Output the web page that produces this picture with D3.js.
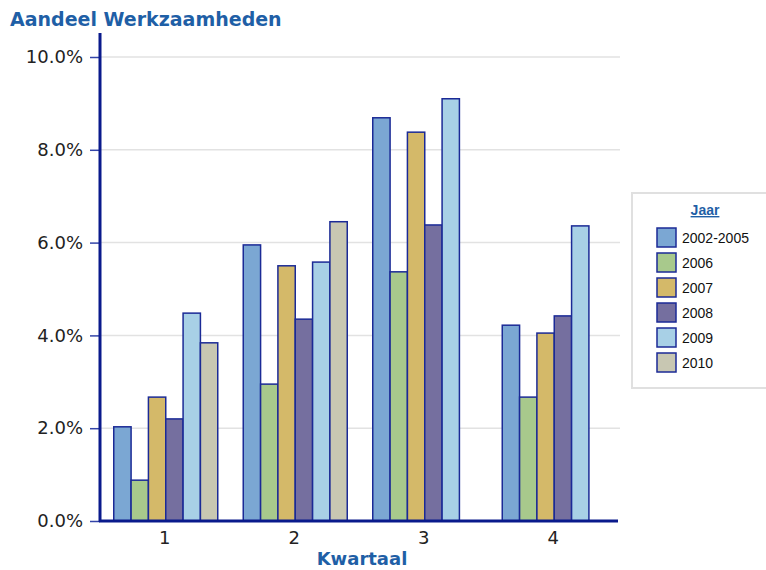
<!DOCTYPE html>
<html>
<head>
<meta charset="utf-8">
<script src="https://cdn.jsdelivr.net/npm/d3@7"></script>
<style>
  body { margin: 0; background: #fff; }
  svg { display: block; }
</style>
</head>
<body>
<div id="chart"></div>
<script>
var svgWidth = 766;
var svgHeight = 570;

var kwartalen = ["1", "2", "3", "4"];
var jaren = ["2002-2005", "2006", "2007", "2008", "2009", "2010"];
var kleuren = ["#7ba7d3", "#a8c98c", "#d4b969", "#756f9f", "#a8d0e6", "#c8c7b2"];

// aandeel per kwartaal, per jaar (null = geen balk)
var v2002 = [2.03, 5.95, 8.69, 4.22];
var v2006 = [0.88, 2.95, 5.37, 2.67];
var v2007 = [2.67, 5.50, 8.38, 4.05];
var v2008 = [2.20, 4.35, 6.38, 4.42];
var v2009 = [4.48, 5.58, 9.10, 6.36];
var v2010 = [3.84, 6.45, null, null];
var reeksen = [v2002, v2006, v2007, v2008, v2009, v2010];

var yTicks = [0, 2, 4, 6, 8, 10];

var margin = { top: 57, left: 100 };
var plotRight = 618;
var plotBottom = 521;

var svg = d3.select("#chart")
  .append("svg")
  .attr("width", svgWidth)
  .attr("height", svgHeight);

var x0 = d3.scaleBand()
  .domain(kwartalen)
  .range([margin.left, plotRight])
  .paddingInner(0)
  .paddingOuter(0);

var groupWidth = 104;
var x1 = d3.scaleBand()
  .domain(jaren)
  .range([0, groupWidth]);

var y = d3.scaleLinear()
  .domain([0, 10])
  .range([plotBottom, margin.top]);

// rasterlijnen
svg.append("g")
  .selectAll("line")
  .data(yTicks.filter(d => d > 0))
  .enter()
  .append("line")
  .attr("x1", margin.left)
  .attr("x2", 620)
  .attr("y1", d => y(d))
  .attr("y2", d => y(d))
  .attr("stroke", "#e2e2e2")
  .attr("stroke-width", 1.5);

// balken
var data = [];
kwartalen.forEach(function(k, i) {
  jaren.forEach(function(j, s) {
    var v = reeksen[s][i];
    if (v != null) data.push({ k: k, j: j, s: s, v: v });
  });
});

svg.append("g")
  .selectAll("rect")
  .data(data)
  .enter()
  .append("rect")
  .attr("x", d => x0(d.k) + x0.bandwidth() / 2 - groupWidth / 2 + 1 + x1(d.j))
  .attr("y", d => y(d.v))
  .attr("width", x1.bandwidth())
  .attr("height", d => plotBottom - y(d.v))
  .attr("fill", d => kleuren[d.s])
  .attr("stroke", "#1b2a96")
  .attr("stroke-width", 1.5);

// y-as
var leftAxis = d3.axisLeft(y)
  .tickValues(yTicks)
  .tickFormat(d => d3.format(".1f")(d) + "%")
  .tickSize(10)
  .tickPadding(7);

var yAxis = svg.append("g")
  .attr("transform", `translate(${margin.left}, 0)`)
  .call(leftAxis);
yAxis.select(".domain").remove();
yAxis.selectAll(".tick line").attr("stroke", "#3344a8").attr("stroke-width", 1.5);
yAxis.selectAll(".tick text")
  .attr("fill", "#222")
  .style("font-family", "DejaVu Sans, Verdana, sans-serif")
  .style("font-size", "18px");

svg.append("line")
  .attr("x1", margin.left).attr("x2", margin.left)
  .attr("y1", 33).attr("y2", plotBottom + 1)
  .attr("stroke", "#0a1a8c")
  .attr("stroke-width", 3);

// x-as
var bottomAxis = d3.axisBottom(x0).tickSize(0).tickPadding(10);
var xAxis = svg.append("g")
  .attr("transform", `translate(0, ${plotBottom})`)
  .call(bottomAxis);
xAxis.select(".domain").remove();
xAxis.selectAll(".tick text")
  .attr("fill", "#222")
  .style("font-family", "DejaVu Sans, Verdana, sans-serif")
  .style("font-size", "18px");

svg.append("line")
  .attr("x1", margin.left - 1).attr("x2", plotRight)
  .attr("y1", plotBottom).attr("y2", plotBottom)
  .attr("stroke", "#0a1a8c")
  .attr("stroke-width", 3);

// titels
svg.append("text")
  .attr("x", 10)
  .attr("y", 26)
  .attr("fill", "#1f5fa6")
  .style("font-family", "DejaVu Sans, Verdana, sans-serif")
  .style("font-size", "19px")
  .style("font-weight", "bold")
  .text("Aandeel Werkzaamheden");

svg.append("text")
  .attr("x", 362)
  .attr("y", 565)
  .attr("text-anchor", "middle")
  .attr("fill", "#1f5fa6")
  .style("font-family", "DejaVu Sans, Verdana, sans-serif")
  .style("font-size", "18px")
  .style("font-weight", "bold")
  .text("Kwartaal");

// legenda
var legend = svg.append("g").attr("transform", "translate(632, 193)");
legend.append("rect")
  .attr("x", 0).attr("y", 0)
  .attr("width", 160).attr("height", 195)
  .attr("fill", "#fff")
  .attr("stroke", "#e0e0e0")
  .attr("stroke-width", 2);

legend.append("text")
  .attr("x", 73)
  .attr("y", 22)
  .attr("text-anchor", "middle")
  .attr("fill", "#1f5fa6")
  .style("font-family", "Liberation Sans, Arial, sans-serif")
  .style("font-size", "14px")
  .style("font-weight", "bold")
  .style("text-decoration", "underline")
  .text("Jaar");

var item = legend.selectAll(".item")
  .data(jaren)
  .enter()
  .append("g")
  .attr("class", "item")
  .attr("transform", (d, i) => `translate(25, ${35 + i * 25})`);

item.append("rect")
  .attr("width", 19).attr("height", 19)
  .attr("fill", (d, i) => kleuren[i])
  .attr("stroke", "#1b2a96")
  .attr("stroke-width", 1.5);

item.append("text")
  .attr("x", 25)
  .attr("y", 15)
  .attr("fill", "#111")
  .style("font-family", "Liberation Sans, Arial, sans-serif")
  .style("font-size", "14px")
  .text(d => d);
</script>
</body>
</html>
